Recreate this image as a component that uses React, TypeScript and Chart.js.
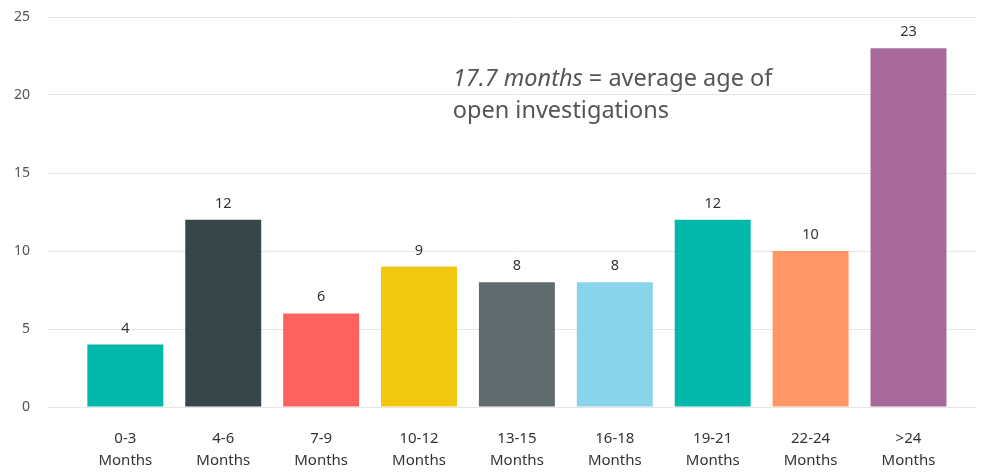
import React, { useEffect, useRef } from "react";
import { Chart, registerables } from "chart.js";

Chart.register(...registerables);

const categories = ["0-3", "4-6", "7-9", "10-12", "13-15", "16-18", "19-21", "22-24", ">24"];
const unitLabel = "Months";
const counts = [4, 12, 6, 9, 8, 8, 12, 10, 23];
const barColors = ["#01B8AA", "#374649", "#FD625E", "#F2C80F", "#5F6B6D", "#8AD4EB", "#01B8AA", "#FE9666", "#A66999"];
const yTicks = [0, 5, 10, 15, 20, 25];
const noteItalic = "17.7 months";
const noteRest = " = average age of";
const noteLine2 = "open investigations";

const FONT = "'Noto Sans', 'Open Sans', sans-serif";

const valueLabels = {
  id: "valueLabels",
  afterDatasetsDraw(chart: any) {
    const ctx = chart.ctx;
    const meta = chart.getDatasetMeta(0);
    ctx.save();
    ctx.font = `14.5px ${FONT}`;
    ctx.fillStyle = "#333333";
    ctx.textAlign = "center";
    ctx.textBaseline = "alphabetic";
    meta.data.forEach((el: any, i: number) => {
      ctx.fillText(String(counts[i]), el.x, el.y - 12);
    });
    ctx.restore();
  },
};

const note = {
  id: "note",
  afterDraw(chart: any) {
    const ctx = chart.ctx;
    const xs = chart.scales.x;
    const ys = chart.scales.y;
    const x0 = xs.getPixelForValue(3.345);
    const y1 = ys.getPixelForValue(20.55);
    const y2 = ys.getPixelForValue(18.53);
    ctx.save();
    ctx.fillStyle = "#555555";
    ctx.textAlign = "left";
    ctx.textBaseline = "alphabetic";
    ctx.font = `italic 23.5px ${FONT}`;
    ctx.fillText(noteItalic, x0, y1);
    const w = ctx.measureText(noteItalic).width;
    ctx.font = `23.5px ${FONT}`;
    ctx.fillText(noteRest, x0 + w, y1);
    ctx.fillText(noteLine2, x0, y2);
    ctx.restore();
  },
};

export default function App() {
  const ref = useRef<HTMLCanvasElement>(null);
  useEffect(() => {
    document.body.style.margin = "0";
    const chart = new Chart(ref.current!, {
      type: "bar",
      data: {
        datasets: [
          {
            data: counts.map((v, i) => ({ x: i, y: v })),
            backgroundColor: barColors,
            categoryPercentage: 1,
            barPercentage: 0.776,
            borderWidth: 0,
          },
        ],
      },
      options: {
        animation: false,
        responsive: false,
        maintainAspectRatio: false,
        layout: { padding: { top: 0, right: 4, left: 0, bottom: 0 } },
        plugins: { legend: { display: false }, tooltip: { enabled: false } },
        scales: {
          x: {
            type: "linear",
            offset: false,
            min: -0.79,
            max: 8.7,
            grid: { display: false },
            border: { display: false },
            afterBuildTicks(scale: any) {
              scale.ticks = categories.map((_, i) => ({ value: i }));
            },
            afterFit(scale: any) {
              scale.height = 65;
            },
            ticks: {
              autoSkip: false,
              maxRotation: 0,
              padding: 13,
              color: "#333333",
              font: { family: FONT, size: 15, lineHeight: 1.47 },
              callback: (v: any) => [categories[v as number], unitLabel],
            },
          },
          y: {
            min: 0,
            max: 25,
            afterBuildTicks(scale: any) {
              scale.ticks = yTicks.map((v) => ({ value: v }));
            },
            afterFit(scale: any) {
              scale.width = 48;
              scale.paddingTop = 17;
            },
            grid: { color: "#e6e6e6", drawTicks: false, lineWidth: 1 },
            border: { display: false },
            ticks: {
              padding: 18,
              color: "#555555",
              font: { family: FONT, size: 14 },
            },
          },
        },
      },
      plugins: [valueLabels, note],
    });
    return () => chart.destroy();
  }, []);
  return (
    <div style={{ width: 981, height: 472 }}>
      <canvas ref={ref} width={981} height={472} style={{ width: 981, height: 472 }} />
    </div>
  );
}
